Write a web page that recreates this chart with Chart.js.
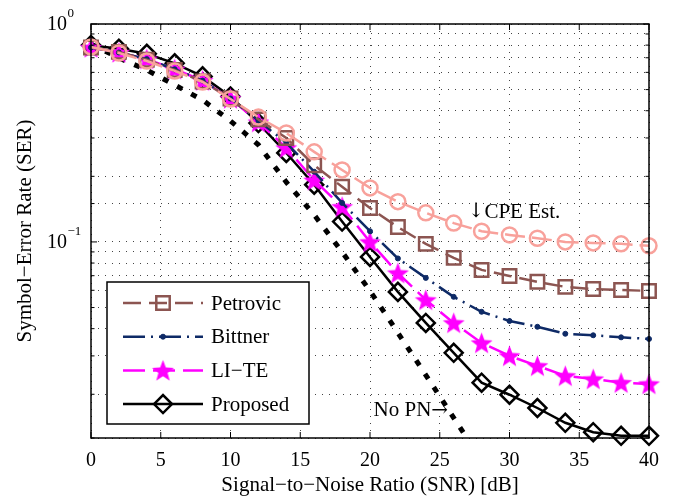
<!DOCTYPE html>
<html>
<head>
<meta charset="utf-8">
<script src="https://cdn.jsdelivr.net/npm/chart.js@4.4.0/dist/chart.umd.min.js"></script>
<style>
    html, body { margin: 0; padding: 0; background: #fff; }
</style>
</head>
<body>
<canvas id="ser-chart" width="676" height="499"></canvas>
<script>
// SNR-Werte in dB
const snr = [0, 2, 4, 6, 8, 10, 12, 14, 16, 18, 20, 22, 24, 26, 28, 30, 32, 34, 36, 38, 40];
const snrOhnePN = [0, 2, 4, 6, 8, 10, 12, 14, 16, 18, 20, 22, 24, 26, 28];

// Symbolfehlerraten der einzelnen Verfahren
const serCPE = [0.785, 0.736, 0.676, 0.609, 0.542, 0.453, 0.374, 0.316, 0.259, 0.214, 0.177, 0.153, 0.136, 0.122, 0.112, 0.1077, 0.104, 0.100, 0.099, 0.098, 0.096];
const serPetrovic = [0.78, 0.745, 0.685, 0.615, 0.545, 0.455, 0.365, 0.300, 0.225, 0.179, 0.143, 0.117, 0.098, 0.0845, 0.0744, 0.0698, 0.0656, 0.0622, 0.0608, 0.0602, 0.0596];
const serBittner = [0.78, 0.74, 0.69, 0.62, 0.55, 0.455, 0.36, 0.285, 0.21, 0.151, 0.112, 0.084, 0.0684, 0.056, 0.0478, 0.0434, 0.0408, 0.0379, 0.0373, 0.0365, 0.0359];
const serLITE = [0.78, 0.74, 0.69, 0.62, 0.55, 0.455, 0.355, 0.27, 0.192, 0.145, 0.100, 0.072, 0.0542, 0.0425, 0.0344, 0.030, 0.027, 0.0243, 0.0235, 0.0226, 0.0223];
const serProposed = [0.80, 0.77, 0.73, 0.66, 0.575, 0.465, 0.351, 0.256, 0.183, 0.124, 0.0853, 0.059, 0.0425, 0.031, 0.0226, 0.0199, 0.0173, 0.0148, 0.0134, 0.0129, 0.0129];
const serOhnePN = [0.81, 0.698, 0.615, 0.525, 0.448, 0.359, 0.279, 0.188, 0.133, 0.090, 0.0596, 0.0383, 0.0245, 0.0156, 0.0099];

// Achsen
const xTickWerte = [0, 5, 10, 15, 20, 25, 30, 35, 40];
const yDekaden = [0, -1];
const yMin = 0.0126;
const yMax = 1;

// Eintraege der Legende
const legendenEintraege = ['Petrovic', 'Bittner', 'LI\u2212TE', 'Proposed'];

const SCHRIFT = '"Liberation Serif", serif';

function punkte(xs, ys) {
    return ys.map((y, i) => ({ x: xs[i], y: y }));
}

// gefuellter Stern als Punktsymbol
function sternBild(farbe, r) {
    const c = document.createElement('canvas');
    const s = Math.ceil(r * 2 + 4);
    c.width = s;
    c.height = s;
    const g = c.getContext('2d');
    g.translate(s / 2, s / 2 + 1);
    g.beginPath();
    for (let i = 0; i < 10; i++) {
        const rad = i % 2 === 0 ? r : r * 0.42;
        const a = -Math.PI / 2 + i * Math.PI / 5;
        g.lineTo(rad * Math.cos(a), rad * Math.sin(a));
    }
    g.closePath();
    g.fillStyle = farbe;
    g.fill();
    return c;
}

const stern = sternBild('#ff00ff', 11.5);

// Text stueckweise zeichnen, Pfeile in einer Schrift mit grossen Pfeilen
function textMitPfeil(ctx, teile, x, y) {
    let px = x;
    teile.forEach(t => {
        ctx.font = t.pfeil ? '20px "DejaVu Serif"' : '21px ' + SCHRIFT;
        ctx.fillText(t.text, px, y);
        px += ctx.measureText(t.text).width;
    });
}

function textBreite(ctx, teile) {
    let w = 0;
    teile.forEach(t => {
        ctx.font = t.pfeil ? '20px "DejaVu Serif"' : '21px ' + SCHRIFT;
        w += ctx.measureText(t.text).width;
    });
    return w;
}

// Rahmen, Teilstriche, Beschriftungen und Legende
const rahmenPlugin = {
    id: 'rahmen',
    afterDatasetsDraw(chart) {
        const ctx = chart.ctx;
        const area = chart.chartArea;
        const x = chart.scales.x;
        const y = chart.scales.y;

        ctx.save();
        ctx.strokeStyle = '#000';
        ctx.lineWidth = 1.5;
        ctx.strokeRect(area.left, area.top, area.right - area.left, area.bottom - area.top);

        // Teilstriche nach innen
        ctx.lineWidth = 1;
        ctx.beginPath();
        xTickWerte.forEach(v => {
            const px = x.getPixelForValue(v);
            ctx.moveTo(px, area.bottom);
            ctx.lineTo(px, area.bottom - 6);
            ctx.moveTo(px, area.top);
            ctx.lineTo(px, area.top + 6);
        });
        y.ticks.forEach(t => {
            const py = y.getPixelForValue(t.value);
            const lang = Math.abs(Math.log10(t.value) - Math.round(Math.log10(t.value))) < 1e-6 ? 6 : 3.5;
            ctx.moveTo(area.left, py);
            ctx.lineTo(area.left + lang, py);
            ctx.moveTo(area.right, py);
            ctx.lineTo(area.right - lang, py);
        });
        ctx.stroke();

        // y-Beschriftung mit Exponent
        ctx.fillStyle = '#000';
        ctx.textBaseline = 'middle';
        ctx.textAlign = 'left';
        yDekaden.forEach(e => {
            const py = y.getPixelForValue(Math.pow(10, e));
            const x0 = area.left - 44;
            ctx.font = '20px ' + SCHRIFT;
            ctx.fillText('10', x0, py + 1);
            const w = ctx.measureText('10').width;
            ctx.font = '13px ' + SCHRIFT;
            ctx.fillText(e < 0 ? '\u2212' + Math.abs(e) : String(e), x0 + w + 0.5, py - 10);
        });

        // Hinweise im Diagramm
        const cpeText = [{ text: '\u2193', pfeil: true }, { text: 'CPE Est.' }];
        textMitPfeil(ctx, cpeText, x.getPixelForValue(27.0), y.getPixelForValue(0.137));
        const pnText = [{ text: 'No PN' }, { text: '\u2192', pfeil: true }];
        const pnX = x.getPixelForValue(25.6) - textBreite(ctx, pnText);
        textMitPfeil(ctx, pnText, pnX, y.getPixelForValue(0.0168));

        // Legende
        const links = area.left + 16;
        const unten = area.bottom - 14;
        const breite = 202;
        const hoehe = 142;
        ctx.fillStyle = '#fff';
        ctx.fillRect(links, unten - hoehe, breite, hoehe);
        ctx.lineWidth = 1.5;
        ctx.strokeStyle = '#000';
        ctx.strokeRect(links, unten - hoehe, breite, hoehe);

        legendenEintraege.forEach((name, i) => {
            const ds = chart.data.datasets.find(d => d.label === name);
            const py = unten - hoehe + 21 + i * 33.7;
            ctx.save();
            ctx.strokeStyle = ds.borderColor;
            ctx.lineWidth = ds.borderWidth;
            ctx.setLineDash(ds.borderDash || []);
            ctx.beginPath();
            ctx.moveTo(links + 16, py);
            ctx.lineTo(links + 96, py);
            ctx.stroke();
            ctx.setLineDash([]);
            ctx.strokeStyle = ds.pointBorderColor;
            ctx.fillStyle = ds.pointBackgroundColor;
            ctx.lineWidth = ds.pointBorderWidth;
            Chart.helpers.drawPoint(ctx, {
                pointStyle: ds.pointStyle,
                radius: ds.pointRadius,
                rotation: 0,
                borderWidth: ds.pointBorderWidth
            }, links + 56, py);
            ctx.restore();
        });

        // Legendentexte
        ctx.fillStyle = '#000';
        ctx.textAlign = 'left';
        ctx.textBaseline = 'middle';
        legendenEintraege.forEach((name, i) => {
            const py = unten - hoehe + 21 + i * 33.7;
            textMitPfeil(ctx, [{ text: name }], links + 104, py + 1);
        });
        ctx.restore();
    }
};

const canvas = document.getElementById('ser-chart');

new Chart(canvas, {
    type: 'line',
    data: {
        datasets: [
            {
                label: 'CPE Est.',
                data: punkte(snr, serCPE),
                borderColor: '#f8a19b',
                borderWidth: 2.5,
                borderDash: [20, 7],
                pointStyle: 'circle',
                pointRadius: 7.5,
                pointBorderWidth: 2.5,
                pointBorderColor: '#f8a19b',
                pointBackgroundColor: 'rgba(0,0,0,0)',
                clip: false
            },
            {
                label: 'Petrovic',
                data: punkte(snr, serPetrovic),
                borderColor: '#8c5551',
                borderWidth: 2.5,
                borderDash: [18, 8],
                pointStyle: 'rect',
                pointRadius: 9.5,
                pointBorderWidth: 2.5,
                pointBorderColor: '#8c5551',
                pointBackgroundColor: 'rgba(0,0,0,0)',
                clip: false
            },
            {
                label: 'Bittner',
                data: punkte(snr, serBittner),
                borderColor: '#0e2a66',
                borderWidth: 2.5,
                borderDash: [22, 6, 2, 6],
                pointStyle: 'circle',
                pointRadius: 2.5,
                pointBorderWidth: 1,
                pointBorderColor: '#0e2a66',
                pointBackgroundColor: '#0e2a66',
                clip: false
            },
            {
                label: 'LI\u2212TE',
                data: punkte(snr, serLITE),
                borderColor: '#ff00ff',
                borderWidth: 2.5,
                borderDash: [22, 8],
                pointStyle: stern,
                pointRadius: 11,
                pointBorderWidth: 1,
                pointBorderColor: '#ff00ff',
                pointBackgroundColor: '#ff00ff',
                clip: false
            },
            {
                label: 'Proposed',
                data: punkte(snr, serProposed),
                borderColor: '#000',
                borderWidth: 2.5,
                pointStyle: 'rectRot',
                pointRadius: 9,
                pointBorderWidth: 2.5,
                pointBorderColor: '#000',
                pointBackgroundColor: 'rgba(0,0,0,0)',
                clip: false
            },
            {
                label: 'No PN',
                data: punkte(snrOhnePN, serOhnePN),
                borderColor: '#000',
                borderWidth: 5,
                borderDash: [6, 10],
                borderCapStyle: 'butt',
                pointRadius: 0,
                clip: 0
            }
        ]
    },
    options: {
        responsive: false,
        animation: false,
        layout: { padding: { top: 24, right: 27, left: 0, bottom: 0 } },
        plugins: {
            legend: { display: false },
            tooltip: { enabled: false }
        },
        scales: {
            x: {
                type: 'linear',
                min: 0,
                max: 40,
                afterFit: s => { s.height = 61; },
                afterBuildTicks: s => { s.ticks = xTickWerte.map(v => ({ value: v })); },
                ticks: {
                    color: '#000',
                    font: { family: SCHRIFT, size: 20 },
                    padding: 11,
                    maxRotation: 0
                },
                grid: { color: '#444', lineWidth: 1, drawTicks: false },
                border: { display: false, dash: [1, 6] },
                title: {
                    display: true,
                    text: 'Signal\u2212to\u2212Noise Ratio (SNR) [dB]',
                    color: '#000',
                    font: { family: SCHRIFT, size: 21 },
                    padding: { top: 0, bottom: 1 }
                }
            },
            y: {
                type: 'logarithmic',
                min: yMin,
                max: yMax,
                afterFit: s => { s.width = 91; },
                ticks: { display: false, autoSkip: false },
                grid: { color: '#444', lineWidth: 1, drawTicks: false },
                border: { display: false, dash: [1, 6] },
                title: {
                    display: true,
                    text: 'Symbol\u2212Error Rate (SER)',
                    color: '#000',
                    font: { family: SCHRIFT, size: 21 },
                    padding: { top: 13, bottom: 0 }
                }
            }
        }
    },
    plugins: [rahmenPlugin]
});
</script>
</body>
</html>
